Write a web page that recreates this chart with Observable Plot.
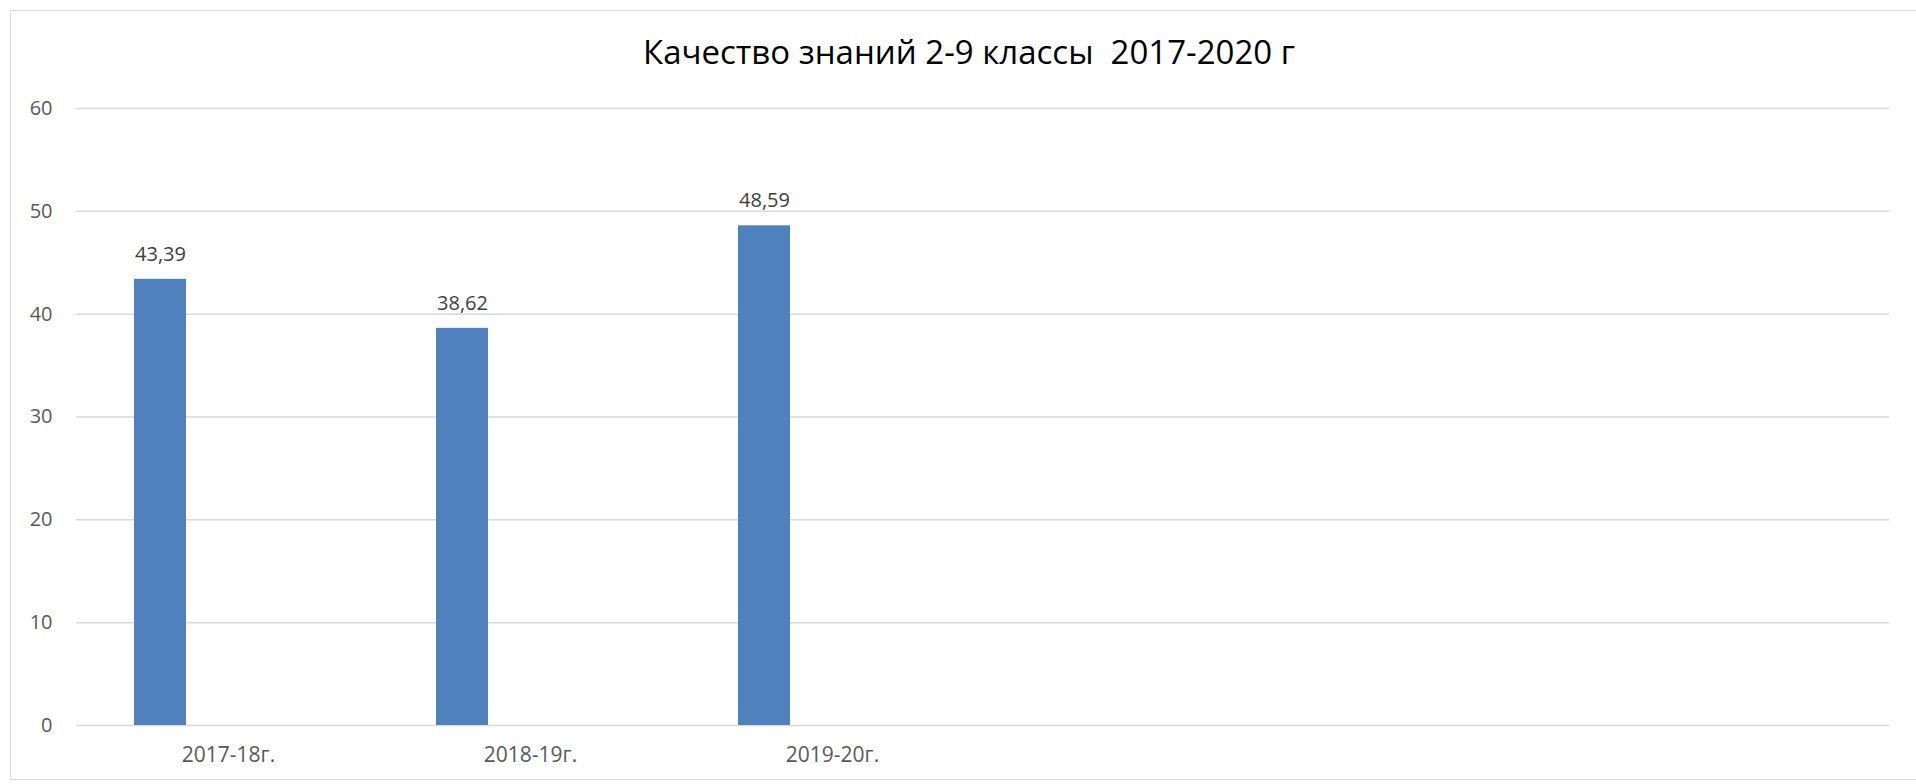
<!DOCTYPE html>
<html>
<head>
<meta charset="utf-8">
<script src="https://cdn.jsdelivr.net/npm/d3@7"></script>
<script src="https://cdn.jsdelivr.net/npm/@observablehq/plot@0.6"></script>
<style>
  html, body { margin: 0; padding: 0; background: #fff; }
  #wrap { position: relative; width: 1916px; height: 784px; overflow: hidden; }
  #border { position: absolute; left: 10px; top: 10px; width: 1920px; height: 770px; border: 1.5px solid #d9d9d9; box-sizing: border-box; }
  #chart { position: absolute; left: 0; top: 0; }
</style>
</head>
<body>
<div id="wrap"><div id="border"></div><div id="chart"></div></div>
<script>
const title = "Качество знаний 2-9 классы  2017-2020 г";
const categories = ["2017-18г.", "2018-19г.", "2019-20г."];
const values = [43.39, 38.62, 48.59];
const valueLabels = ["43,39", "38,62", "48,59"];
const yTicks = [0, 10, 20, 30, 40, 50, 60];
const emptySlotCount = 3;

const blanks = d3.range(emptySlotCount).map(i => " ".repeat(i + 1));
const domain = [...categories, ...blanks];
const data = categories.map((c, i) => ({category: c, value: values[i], label: valueLabels[i]}));

const font = "'Open Sans', sans-serif";

const chart = Plot.plot({
  width: 1916,
  height: 784,
  marginLeft: 76,
  marginRight: 27,
  marginTop: 108,
  marginBottom: 59,
  style: {fontFamily: font, background: "transparent"},
  x: {type: "band", domain, padding: 0, label: null},
  y: {domain: [0, 60], label: null},
  marks: [
    Plot.gridY(yTicks, {stroke: "#d9d9d9", strokeOpacity: 1, strokeWidth: 1.5}),
    Plot.barY(data, {x: "category", y: "value", fill: "#4f81bd", insetLeft: 57, insetRight: 193}),
    Plot.text(data, {x: "category", y: "value", text: "label", dx: -68, dy: -25, fontSize: 20, fill: "#404040", lineAnchor: "middle"}),
    Plot.axisY(yTicks, {tickSize: 0, tickPadding: 24, fontSize: 20, color: "#595959", label: null}),
    Plot.axisX({tickSize: 0, tickPadding: 22, fontSize: 21, color: "#595959", label: null}),
    Plot.text([title], {frameAnchor: "top", dx: -14, dy: -55, fontSize: 33, fill: "#000", lineAnchor: "middle"})
  ]
});
document.getElementById("chart").appendChild(chart);
</script>
</body>
</html>
